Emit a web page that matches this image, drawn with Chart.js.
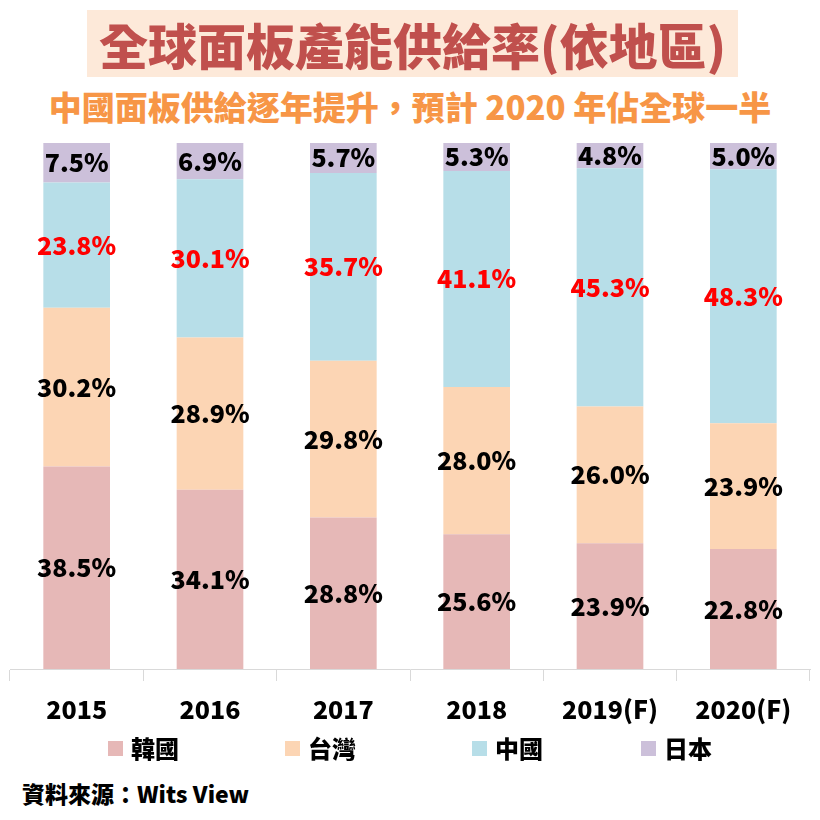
<!DOCTYPE html>
<html>
<head>
<meta charset="utf-8">
<script src="https://cdn.jsdelivr.net/npm/chart.js@4/dist/chart.umd.min.js"></script>
<style>
  body { margin: 0; width: 820px; height: 820px; background: #fff; position: relative; overflow: hidden;
         font-family: "Noto Sans CJK TC", "Noto Sans", sans-serif; }
  #title { position: absolute; left: 87px; top: 10px; width: 651px; height: 67px; background: #fde9d9;
           color: #c0504d; font-size: 49px; font-weight: 900; text-align: center; line-height: 67px; }
  #subtitle { position: absolute; left: 0; top: 84px; width: 820px; text-align: center;
              color: #f79646; font-size: 33px; font-weight: 900; line-height: 44px; }
  #chart-box { position: absolute; left: 0; top: 130px; width: 820px; height: 611px; }
  #legend { position: absolute; left: 0; top: 730px; width: 820px; height: 36px; }
  .legend-item { position: absolute; top: 0; display: flex; align-items: center; font-size: 24px;
                 font-weight: 900; color: #000; line-height: 36px; }
  .legend-item span.box { width: 15px; height: 15px; margin-right: 8px; display: inline-block; }
  #source { position: absolute; left: 22px; top: 775px; font-size: 23px; font-weight: 900; color: #000;
            line-height: 36px; }
</style>
</head>
<body>
<div id="title">全球面板產能供給率(依地區)</div>
<div id="subtitle">中國面板供給逐年提升，預計 2020 年佔全球一半</div>
<div id="chart-box"><canvas id="supply-chart"></canvas></div>
<div id="legend"></div>
<div id="source">資料來源：Wits View</div>
<script>
const YEARS = ["2015", "2016", "2017", "2018", "2019(F)", "2020(F)"];

const REGION_NAMES = ["韓國", "台灣", "中國", "日本"];

const KOREA = [38.5, 34.1, 28.8, 25.6, 23.9, 22.8];
const TAIWAN = [30.2, 28.9, 29.8, 28.0, 26.0, 23.9];
const CHINA = [23.8, 30.1, 35.7, 41.1, 45.3, 48.3];
const JAPAN = [7.5, 6.9, 5.7, 5.3, 4.8, 5.0];

const REGION_COLORS = ["#e6b8b7", "#fcd5b4", "#b7dee8", "#ccc0da"];
const LABEL_COLORS = ["#000000", "#000000", "#ff0000", "#000000"];

const FONT_FAMILY = '"Noto Sans CJK TC", "Noto Sans", sans-serif';

// legend x positions follow the reference spacing
const LEGEND_LEFT = [108, 285, 472, 641];

function buildLegend() {
  const legend = document.getElementById("legend");
  REGION_NAMES.forEach((name, i) => {
    const item = document.createElement("div");
    item.className = "legend-item";
    item.style.left = LEGEND_LEFT[i] + "px";
    const box = document.createElement("span");
    box.className = "box";
    box.style.background = REGION_COLORS[i];
    item.appendChild(box);
    item.appendChild(document.createTextNode(name));
    legend.appendChild(item);
  });
}

const segmentLabels = {
  id: "segmentLabels",
  afterDatasetsDraw(chart) {
    const ctx = chart.ctx;
    ctx.save();
    ctx.font = `900 25px ${FONT_FAMILY}`;
    ctx.textAlign = "center";
    ctx.textBaseline = "middle";
    chart.data.datasets.forEach((dataset, di) => {
      const meta = chart.getDatasetMeta(di);
      ctx.fillStyle = LABEL_COLORS[di];
      meta.data.forEach((bar, i) => {
        const y = (bar.y + bar.base) / 2;
        ctx.fillText(dataset.data[i].toFixed(1) + "%", bar.x, y);
      });
    });
    ctx.restore();
  },
};

function renderChart() {
  const seriesList = [KOREA, TAIWAN, CHINA, JAPAN];
  new Chart(document.getElementById("supply-chart"), {
    type: "bar",
    data: {
      labels: YEARS,
      datasets: seriesList.map((values, i) => ({
        label: REGION_NAMES[i],
        data: values,
        backgroundColor: REGION_COLORS[i],
        borderWidth: 0,
        barPercentage: 0.5,
        categoryPercentage: 1,
      })),
    },
    options: {
      responsive: true,
      maintainAspectRatio: false,
      animation: false,
      layout: { padding: { top: 13, left: 10, right: 10, bottom: 4 } },
      plugins: {
        legend: { display: false },
        tooltip: { enabled: false },
      },
      scales: {
        x: {
          stacked: true,
          border: { color: "#d9d9d9", width: 1 },
          grid: {
            offset: true,
            drawOnChartArea: false,
            drawTicks: true,
            tickLength: 12,
            color: "#d9d9d9",
          },
          ticks: {
            color: "#000",
            padding: 13,
            font: { family: FONT_FAMILY, size: 25, weight: "900" },
          },
        },
        y: {
          stacked: true,
          display: false,
          min: 0,
          max: 100,
        },
      },
    },
    plugins: [segmentLabels],
  });
}

buildLegend();
renderChart();
</script>
</body>
</html>
